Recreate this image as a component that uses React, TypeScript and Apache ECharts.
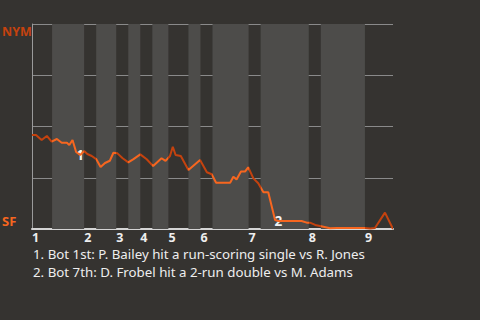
import React, { useEffect, useRef } from "react";
import * as echarts from "echarts";

// Game progress (play index) and NYM win probability (%) after each play
const playIndex = [
  0, 1, 2.4, 3.7, 4.9, 6.2, 7.4, 8.7, 9.3, 10.1, 11.0, 12.0, 13.0, 13.8, 14.9, 16.0, 17.1, 18.2, 19.4, 20.3,
  21.3, 22.6, 24.0, 25.3, 27.0, 28.6, 30.2, 32.3, 33.3, 34.4, 35.1, 35.8, 37.1, 39.0, 41.9, 43.6, 44.8, 45.9,
  49.4, 50.2, 51.0, 52.1, 53.1, 53.9, 55.2, 56.4, 57.7, 58.9, 60.6, 61.4, 67.2, 68.5, 69.3, 70.6, 71.8, 74.3,
  76.0, 83.0, 84.3, 85.5, 88.0, 90,
];
const nymWinProb = [
  45.9, 45.9, 43.4, 45.4, 42.6, 43.9, 42.1, 42.1, 41.0, 43.4, 37.6, 36.1, 38.0, 36.6, 35.6, 34.1, 30.2, 32.2, 33.3, 37.2,
  36.9, 34.5, 32.5, 34.1, 36.4, 34.0, 30.7, 34.5, 33.2, 35.6, 40.1, 36.1, 35.6, 28.8, 33.7, 27.7, 26.7, 22.6,
  22.6, 25.5, 24.2, 28.0, 28.0, 30.1, 24.7, 22.3, 17.9, 17.9, 4.4, 3.9, 3.9, 3.1, 3.1, 2.0, 1.5, 0.4,
  0.5, 0.5, 0.2, 0.5, 8.0, 0,
];
// Half-inning boundaries (play index): top 1st, bot 1st, top 2nd, ...
const halfInningBounds = [0, 5, 13, 16, 21, 24, 27, 30, 34, 39, 42, 45, 54, 57, 69, 72, 83, 90];
const inningNames = ["1", "2", "3", "4", "5", "6", "7", "8", "9"];
const teamTop = "NYM";
const teamBottom = "SF";
// Annotated plays: [play index, win prob, label]
const annotations: [number, number, string][] = [
  [12.0, 36.1, "1"],
  [61.4, 3.9, "2"],
];
const footnotes = [
  "1. Bot 1st: P. Bailey hit a run-scoring single vs R. Jones",
  "2. Bot 7th: D. Frobel hit a 2-run double vs M. Adams",
];

const BG = "#353330";
const BAND = "#4d4c4a";
const DARK_ORANGE = "#c4420e";
const BRIGHT_ORANGE = "#f7661f";
const FONT = "'Noto Sans', sans-serif";

export default function App() {
  const ref = useRef<HTMLDivElement>(null);
  useEffect(() => {
    if (!ref.current) return;
    const chart = echarts.init(ref.current, undefined, { renderer: "svg" });
    const inningStarts = halfInningBounds.filter((_, i) => i % 2 === 0 && i < halfInningBounds.length - 1);
    const bottomHalves: any[] = [];
    const pieces: any[] = [];
    for (let i = 0; i < halfInningBounds.length - 1; i++) {
      const a = halfInningBounds[i];
      const b = halfInningBounds[i + 1];
      if (i % 2 === 1) bottomHalves.push([{ xAxis: a }, { xAxis: b }]);
      const last = i === halfInningBounds.length - 2;
      pieces.push(
        last
          ? { gte: a, lte: b, color: i % 2 === 0 ? DARK_ORANGE : BRIGHT_ORANGE }
          : { gte: a, lt: b, color: i % 2 === 0 ? DARK_ORANGE : BRIGHT_ORANGE }
      );
    }
    const data = playIndex.map((x, i) => [x, nymWinProb[i]]);
    chart.setOption({
      animation: false,
      backgroundColor: BG,
      textStyle: { fontFamily: FONT },
      grid: { left: 32, right: 87, top: 24, bottom: 91 },
      xAxis: {
        type: "value",
        min: halfInningBounds[0],
        max: halfInningBounds[halfInningBounds.length - 1],
        axisLine: { show: true, lineStyle: { color: "#d4d4d4", width: 2 } },
        axisTick: { show: false },
        splitLine: { show: false },
        axisLabel: {
          customValues: inningStarts,
          formatter: (v: number) => inningNames[inningStarts.indexOf(v)] ?? "",
          color: "#eeeeee",
          fontWeight: "bold",
          fontSize: 12.5,
          lineHeight: 11,
          fontFamily: FONT,
          align: "left",
          margin: 3,
        },
      },
      yAxis: {
        type: "value",
        min: 0,
        max: 100,
        interval: 25,
        axisLine: { show: true, lineStyle: { color: "#9a9a9a", width: 1 } },
        axisTick: { show: false },
        axisLabel: { show: false },
        splitLine: { show: true, lineStyle: { color: "#8a8a8a", width: 1 } },
      },
      visualMap: {
        type: "piecewise",
        show: false,
        dimension: 0,
        seriesIndex: 0,
        pieces,
      },
      series: [
        {
          type: "line",
          data,
          symbol: "none",
          lineStyle: { width: 2 },
          z: 5,
          markArea: {
            silent: true,
            itemStyle: { color: BAND },
            data: bottomHalves,
            z: 1,
          },
          markPoint: {
            symbol: "circle",
            symbolSize: 1,
            itemStyle: { color: "rgba(0,0,0,0)" },
            label: {
              show: true,
              position: "inside",
              color: "#f2f2f2",
              fontWeight: "bold",
              fontSize: 13.5,
              fontFamily: FONT,
              formatter: (p: any) => p.name,
            },
            data: annotations.map(([x, y, n]) => ({ name: n, coord: [x, y] })),
          },
        },
      ],
      graphic: [
        {
          type: "text",
          x: 2,
          y: 31,
          style: { text: teamTop, fill: DARK_ORANGE, font: `bold 12.5px ${FONT}`, verticalAlign: "middle" },
        },
        {
          type: "text",
          x: 2,
          y: 221,
          style: { text: teamBottom, fill: BRIGHT_ORANGE, font: `bold 13px ${FONT}`, verticalAlign: "middle" },
        },
        {
          type: "text",
          x: 33,
          y: 253.5,
          style: { text: footnotes[0], fill: "#eeeeee", font: `13.3px ${FONT}`, verticalAlign: "middle", lineHeight: 13 },
        },
        {
          type: "text",
          x: 33,
          y: 271.5,
          style: { text: footnotes[1], fill: "#eeeeee", font: `13.3px ${FONT}`, verticalAlign: "middle", lineHeight: 13 },
        },
      ],
    });
    return () => chart.dispose();
  }, []);
  return (
    <div
      ref={ref}
      style={{ position: "fixed", left: 0, top: 0, width: 480, height: 320, background: BG }}
    />
  );
}
